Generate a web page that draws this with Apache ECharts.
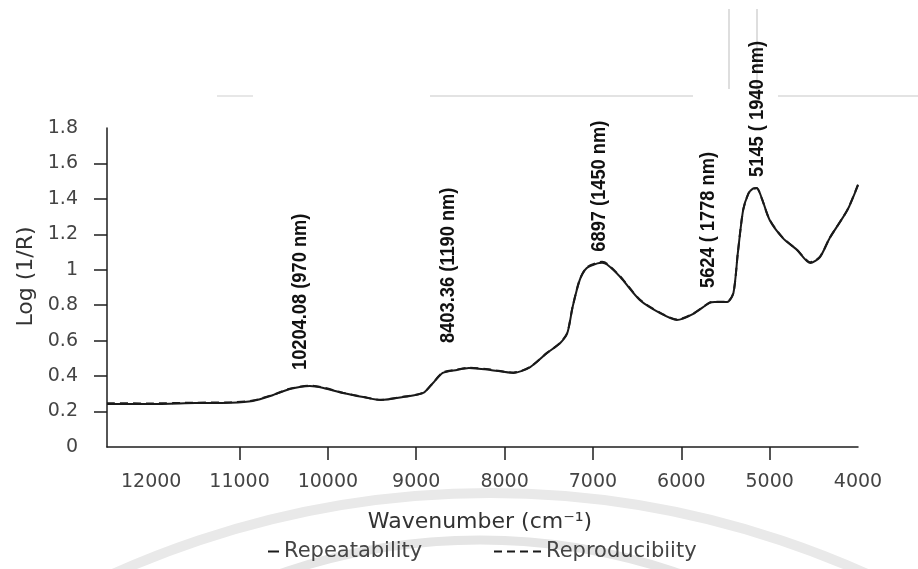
<!DOCTYPE html>
<html>
<head>
<meta charset="utf-8">
<script src="https://cdn.jsdelivr.net/npm/echarts@6/dist/echarts.min.js"></script>
<style>
  html, body { margin: 0; padding: 0; background: #ffffff; }
  #chart { width: 918px; height: 569px; }
</style>
</head>
<body>
<div id="chart"></div>
<script>
// NIR spectrum: wavenumber (cm-1) against log(1/R)
const wavenumbers = [
  12500, 12000, 11500, 11100, 10850, 10620, 10430, 10204.08, 10050, 9830,
  9600, 9400, 9150, 8920, 8810, 8700, 8540, 8403.36, 8160, 7900,
  7710, 7520, 7370, 7290, 7230, 7150, 7070, 6950, 6897, 6840,
  6690, 6470, 6240, 6050, 5870, 5680, 5624, 5480, 5410, 5360,
  5300, 5240, 5190, 5145, 5090, 5000, 4850, 4690, 4540, 4430,
  4320, 4120, 4000
];
const repeatability = [
  0.243, 0.243, 0.248, 0.250, 0.260, 0.293, 0.327, 0.344, 0.333, 0.305,
  0.282, 0.265, 0.282, 0.305, 0.361, 0.418, 0.435, 0.446, 0.435, 0.418,
  0.451, 0.530, 0.587, 0.643, 0.790, 0.942, 1.010, 1.036, 1.040, 1.030,
  0.959, 0.830, 0.756, 0.717, 0.750, 0.813, 0.818, 0.818, 0.869, 1.095,
  1.337, 1.430, 1.458, 1.462, 1.405, 1.281, 1.179, 1.112, 1.038, 1.072,
  1.179, 1.337, 1.478
];
const reproducibility = [
  0.247, 0.246, 0.250, 0.252, 0.262, 0.295, 0.329, 0.346, 0.335, 0.306,
  0.283, 0.266, 0.283, 0.306, 0.362, 0.420, 0.437, 0.448, 0.437, 0.420,
  0.452, 0.531, 0.588, 0.645, 0.792, 0.944, 1.013, 1.040, 1.045, 1.034,
  0.962, 0.832, 0.758, 0.719, 0.751, 0.815, 0.820, 0.820, 0.870, 1.096,
  1.338, 1.431, 1.457, 1.460, 1.403, 1.282, 1.180, 1.113, 1.042, 1.074,
  1.180, 1.338, 1.480
];
const xTickLabels = [12000, 11000, 10000, 9000, 8000, 7000, 6000, 5000, 4000];
const yTickLabels = [0, 0.2, 0.4, 0.6, 0.8, 1, 1.2, 1.4, 1.6, 1.8];
const peakWavenumbers = [10204.08, 8403.36, 6897, 5624, 5145];
const peakLabels = [
  '10204.08 (970 nm)',
  '8403.36 (1190 nm)',
  '6897 (1450 nm)',
  '5624 ( 1778 nm)',
  '5145 ( 1940 nm)'
];

// pixel nudges for the vertical peak captions [dx, dy]
const captionNudge = [[-10, -16], [-21, -25], [-3, -11], [-6, -14], [0, -11]];

const pair = (xs, ys) => xs.map((x, i) => [x, ys[i]]);
const peakPoints = peakWavenumbers.map(w => [w, repeatability[wavenumbers.indexOf(w)]]);

const axisColor = '#1e1e1e';
const textColor = '#444';
const baseFont = 'DejaVu Sans';

const chart = echarts.init(document.getElementById('chart'), null, { renderer: 'canvas' });

chart.setOption({
  backgroundColor: '#ffffff',
  animation: false,
  grid: { left: 107, right: 60, top: 128, bottom: 122, outerBoundsMode: 'none' },
  xAxis: {
    type: 'value',
    inverse: true,
    min: 4000,
    max: 12500,
    name: 'Wavenumber (cm\u207B\u00B9)',
    nameLocation: 'middle',
    nameGap: 64,
    nameTextStyle: { fontFamily: baseFont, fontSize: 22, color: '#333', padding: [0, 5, 0, 0] },
    axisLine: { show: true, onZero: false, lineStyle: { color: axisColor, width: 1.5 } },
    axisTick: { show: true, length: 13, lineStyle: { color: axisColor, width: 1.5 }, customValues: xTickLabels.slice(1, -1) },
    axisLabel: { customValues: xTickLabels, formatter: v => String(v), margin: 26, fontFamily: baseFont, fontSize: 19, color: textColor },
    splitLine: { show: false }
  },
  yAxis: {
    type: 'value',
    min: 0,
    max: 1.8,
    interval: 0.2,
    name: 'Log (1/R)',
    nameLocation: 'middle',
    nameGap: 70,
    nameRotate: 90,
    nameTextStyle: { fontFamily: baseFont, fontSize: 22, color: '#333', padding: [0, 0, 0, 22] },
    axisLine: { show: true, lineStyle: { color: axisColor, width: 1.5 } },
    axisTick: { show: true, length: 13, lineStyle: { color: axisColor, width: 1.5 }, customValues: yTickLabels.slice(1, -1) },
    axisLabel: { customValues: yTickLabels, margin: 29, fontFamily: baseFont, fontSize: 19, color: textColor },
    splitLine: { show: false }
  },
  legend: [
    {
      data: ['Repeatability'],
      left: 267, top: 541, padding: 0,
      itemWidth: 11, itemHeight: 12,
      itemStyle: { opacity: 0 },
      textStyle: { fontFamily: baseFont, fontSize: 21, color: textColor }
    },
    {
      data: ['Reproducibiity'],
      left: 493, top: 541, padding: 0,
      itemWidth: 47, itemHeight: 12,
      itemStyle: { opacity: 0 },
      textStyle: { fontFamily: baseFont, fontSize: 21, color: textColor }
    }
  ],
  series: [
    {
      name: 'Reproducibiity',
      type: 'line',
      data: pair(wavenumbers, reproducibility),
      smooth: 0.25,
      showSymbol: false,
      symbol: 'none',
      lineStyle: { color: '#1a1a1a', width: 2, type: [8, 5] },
      itemStyle: { color: '#1a1a1a' },
      z: 3
    },
    {
      name: 'Repeatability',
      type: 'line',
      data: pair(wavenumbers, repeatability),
      smooth: 0.25,
      showSymbol: false,
      symbol: 'none',
      lineStyle: { color: '#1a1a1a', width: 2 },
      itemStyle: { color: '#1a1a1a' },
      z: 4
    }
  ]
});

// decorative marks: faint watermark arcs and thin rules along the top edge
const decor = [
  { type: 'arc', z: -10, silent: true, shape: { cx: 490, cy: 1411, r: 918, startAngle: Math.PI * 1.3, endAngle: Math.PI * 1.7 },
    style: { stroke: '#e9e9e9', lineWidth: 10, fill: null } },
  { type: 'arc', z: -10, silent: true, shape: { cx: 480, cy: 1152, r: 612, startAngle: Math.PI * 1.3, endAngle: Math.PI * 1.7 },
    style: { stroke: '#e5e5e5', lineWidth: 9, fill: null } },
  { type: 'line', z: -5, silent: true, shape: { x1: 217, y1: 96, x2: 253, y2: 96 }, style: { stroke: '#cfcfcf', lineWidth: 1 } },
  { type: 'line', z: -5, silent: true, shape: { x1: 430, y1: 96, x2: 693, y2: 96 }, style: { stroke: '#c8c8c8', lineWidth: 1.2 } },
  { type: 'line', z: -5, silent: true, shape: { x1: 778, y1: 96, x2: 918, y2: 96 }, style: { stroke: '#c8c8c8', lineWidth: 1.2 } },
  { type: 'line', z: -5, silent: true, shape: { x1: 729, y1: 9, x2: 729, y2: 89 }, style: { stroke: '#c8c8c8', lineWidth: 1.2 } },
  { type: 'line', z: -5, silent: true, shape: { x1: 757, y1: 9, x2: 757, y2: 97 }, style: { stroke: '#c8c8c8', lineWidth: 1.2 } }
];

// vertical peak captions, anchored on the curve through the grid's own scale
const captions = peakPoints.map((pt, i) => {
  const [px, py] = chart.convertToPixel({ gridIndex: 0 }, pt);
  return {
    type: 'text',
    z: 10,
    silent: true,
    x: px + captionNudge[i][0],
    y: py + captionNudge[i][1],
    rotation: Math.PI / 2,
    scaleX: 0.87,
    style: {
      text: peakLabels[i],
      fontFamily: 'Liberation Sans',
      fontWeight: 'bold',
      fontSize: 21,
      fill: '#111',
      align: 'left',
      verticalAlign: 'middle'
    }
  };
});

chart.setOption({ graphic: decor.concat(captions) });
</script>
</body>
</html>
